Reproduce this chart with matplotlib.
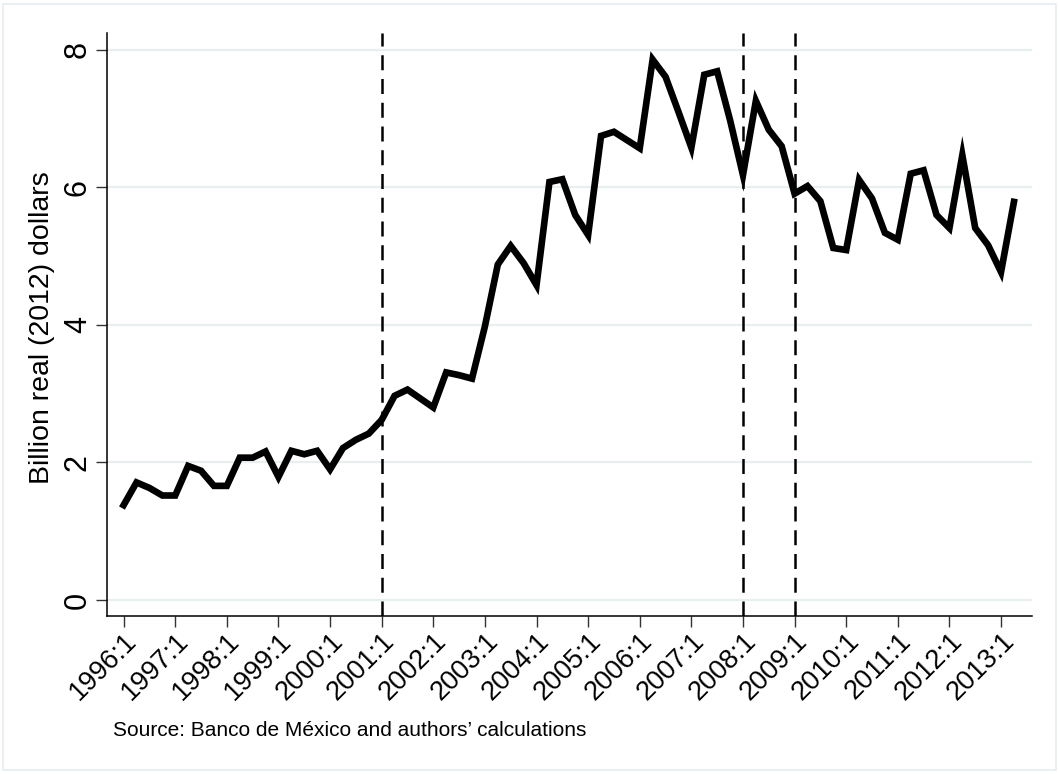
import matplotlib
matplotlib.use("Agg")
import matplotlib.pyplot as plt
from matplotlib.patches import Rectangle
import numpy as np

plt.rcParams['font.family'] = ['Liberation Sans', 'DejaVu Sans']

# quarterly values, 1996:1 .. 2013:2, billion real (2012) dollars
values = [1.38, 1.71, 1.63, 1.52, 1.52, 1.95, 1.88, 1.66, 1.66, 2.07,
          2.07, 2.16, 1.79, 2.17, 2.12, 2.17, 1.90, 2.21, 2.33, 2.42,
          2.62, 2.97, 3.06, 2.93, 2.80, 3.31, 3.27, 3.22, 3.98, 4.88,
          5.15, 4.90, 4.58, 6.08, 6.12, 5.60, 5.31, 6.75, 6.81, 6.69,
          6.57, 7.86, 7.61, 7.10, 6.58, 7.64, 7.69, 6.98, 6.18, 7.26,
          6.84, 6.60, 5.91, 6.02, 5.80, 5.12, 5.09, 6.11, 5.84, 5.34,
          5.24, 6.20, 6.25, 5.60, 5.41, 6.47, 5.41, 5.16, 4.77, 5.79]
start_year = 1996
tick_years = list(range(1996, 2014))
event_years = [2001, 2008, 2009]
y_ticks = [0, 2, 4, 6, 8]
ylabel = "Billion real (2012) dollars"
source = "Source: Banco de M\u00e9xico and authors\u2019 calculations"

q = np.arange(len(values))

fig = plt.figure(figsize=(10.59, 7.74), dpi=100)
fig.patches.append(Rectangle((0.003, 0.005), 0.994, 0.99, transform=fig.transFigure,
                             fill=False, edgecolor='#e6eef0', linewidth=1.2))
ax = fig.add_axes([0.1015, 0.2041, 0.873, 0.7533])

for y in y_ticks:
    ax.axhline(y, color='#e8eff1', linewidth=1.6, zorder=0)

ax.plot(q, values, color='black', linewidth=4.8, solid_joinstyle='miter', zorder=3)

for yr in event_years:
    ax.axvline((yr - start_year) * 4, color='black', linewidth=1.8,
               linestyle=(0, (6, 3.5)), zorder=2)

ax.set_xlim(-1.25, 70.4)
ax.set_ylim(-0.233, 8.247)

ax.set_xticks([(y - start_year) * 4 for y in tick_years])
ax.set_yticks(y_ticks)
ax.tick_params(axis='x', direction='out', length=8, width=1, color='#333333', pad=0.5)
ax.tick_params(axis='y', direction='out', length=8, width=1, color='#333333', pad=2.5)
ax.set_xticklabels([f"{y}:1" for y in tick_years], rotation=45, ha='right',
                   rotation_mode='anchor', fontsize=19.5)
ax.set_yticklabels([str(v) for v in y_ticks], rotation=90, va='center', fontsize=22)
ax.set_ylabel(ylabel, fontsize=20.5)
ax.yaxis.set_label_coords(-0.057, 0.495)

for s in ['top', 'right']:
    ax.spines[s].set_visible(False)
for s in ['left', 'bottom']:
    ax.spines[s].set_linewidth(1.1)

fig.text(113 / 1059, 1 - 730 / 774, source, fontsize=15, va='center', ha='left')

fig.savefig("out.png", dpi=100)
